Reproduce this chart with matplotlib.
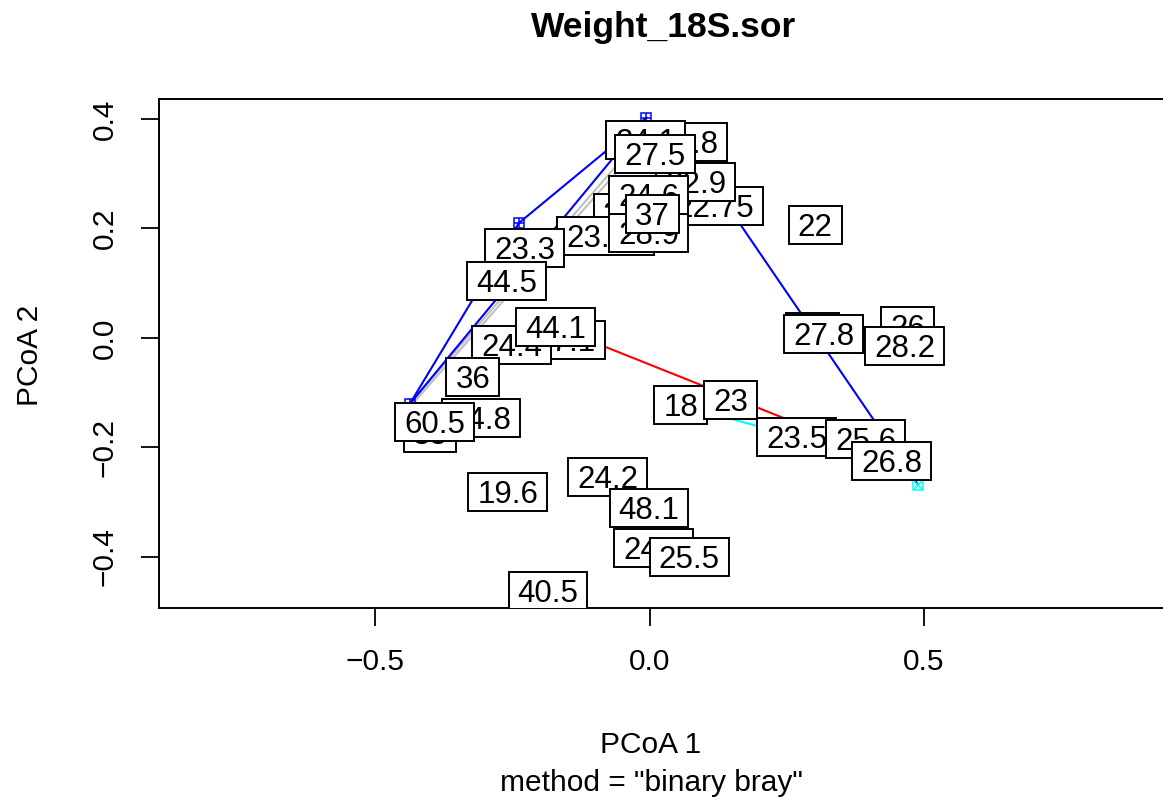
import matplotlib
matplotlib.use('agg')
import matplotlib.pyplot as plt
from matplotlib.patches import Rectangle
from matplotlib.transforms import IdentityTransform

plt.rcParams['font.family'] = ['Liberation Sans', 'DejaVu Sans']

# Sitios: etiqueta y coordenadas PCoA (en orden de dibujo, el último queda encima)
etiquetas = ['21.8', '24.1', '22.75', '22.9', '27.5', '25.4', '23.15', '28.9', '24.6', '37',
             '23.3', '44.5', '27.1', '24.4', '44.1', '36', '38', '34.8', '60.5',
             '22', '26', '28.2', '25', '27.8', '18', '23', '23.5', '25.6', '26.8',
             '19.6', '24.2', '48.1', '24.9', '25.5', '40.5']
pcoa1 = [0.070, -0.007, 0.119, 0.084, 0.010, -0.030, -0.080, -0.001, -0.001, 0.005,
         -0.227, -0.260, -0.154, -0.251, -0.171, -0.322, -0.400, -0.307, -0.391,
         0.302, 0.470, 0.465, 0.297, 0.317, 0.057, 0.148, 0.268, 0.394, 0.441,
         -0.258, -0.076, -0.001, 0.008, 0.072, -0.185]
pcoa2 = [0.358, 0.362, 0.241, 0.285, 0.336, 0.228, 0.186, 0.192, 0.261, 0.226,
         0.164, 0.104, -0.004, -0.013, 0.020, -0.071, -0.174, -0.146, -0.153,
         0.206, 0.022, -0.015, 0.011, 0.007, -0.122, -0.113, -0.181, -0.184, -0.225,
         -0.281, -0.254, -0.311, -0.384, -0.400, -0.462]

# Puntos visibles por grupo
puntos_azul_x = [-0.006, -0.238, -0.437]
puntos_azul_y = [0.402, 0.210, -0.121]
puntos_cian_x = [0.489]
puntos_cian_y = [-0.268]

# Segmentos entre sitios: (x0, y0, x1, y1, color)
segmentos = [
    (-0.437, -0.121, -0.036, 0.343, 'silver'),
    (-0.432, -0.121, -0.017, 0.352, 'silver'),
    (-0.437, -0.121, -0.238, 0.210, 'blue'),
    (-0.437, -0.121, -0.006, 0.402, 'blue'),
    (-0.238, 0.210, -0.006, 0.402, 'blue'),
    (0.073, 0.343, 0.489, -0.268, 'blue'),
    (-0.171, 0.020, 0.441, -0.225, 'red'),
    (0.057, -0.122, 0.268, -0.181, 'cyan'),
]

W, H = 1163, 805
fig = plt.figure(figsize=(W / 100, H / 100), dpi=100)
xmin, xmax = -0.8935, 0.97
ymin, ymax = -0.4932, 0.4365
escala_x = 549.0
ax = fig.add_axes([159 / W, (H - 608) / H, (xmax - xmin) * escala_x / W, 509 / H])
ax.set_xlim(xmin, xmax)
ax.set_ylim(ymin, ymax)

for x0, y0, x1, y1, c in segmentos:
    ax.plot([x0, x1], [y0, y1], color=c, lw=1.5, zorder=1)

ax.plot(puntos_azul_x, puntos_azul_y, 's', mfc='none', mec='blue', ms=7, mew=1.1, zorder=2)
ax.plot(puntos_azul_x, puntos_azul_y, '+', color='blue', ms=7, mew=1.1, zorder=2)
ax.plot(puntos_cian_x, puntos_cian_y, 's', mfc='none', mec='cyan', ms=7, mew=1.1, zorder=2)
ax.plot(puntos_cian_x, puntos_cian_y, 'x', color='cyan', ms=6, mew=1.1, zorder=2)

# Etiquetas con caja blanca
fs = 22.5
renderer = fig.canvas.get_renderer()
alto_caja = 38
for i, (lab, x, y) in enumerate(zip(etiquetas, pcoa1, pcoa2)):
    cx, cy = ax.transData.transform((x, y))
    t = ax.annotate(lab, xy=(x, y), xytext=(0, -0.36 * fs), textcoords='offset points',
                    ha='center', va='baseline', fontsize=fs, zorder=4 + 2 * i)
    ancho = t.get_window_extent(renderer).width + 18
    rect = Rectangle((cx - ancho / 2, cy - alto_caja / 2), ancho, alto_caja,
                     transform=IdentityTransform(), fc='white', ec='black', lw=1.4,
                     zorder=3 + 2 * i)
    ax.add_artist(rect)
    rect.set_clip_path(ax.patch)

ax.set_xticks([-0.5, 0.0, 0.5])
ax.set_xticklabels(['\u22120.5', '0.0', '0.5'])
ax.set_yticks([-0.4, -0.2, 0.0, 0.2, 0.4])
ax.set_yticklabels(['\u22120.4', '\u22120.2', '0.0', '0.2', '0.4'], rotation=90, va='center')
ax.tick_params(direction='out', length=13, width=1.3, labelsize=21.5, pad=16)
for s in ax.spines.values():
    s.set_linewidth(1.4)

fig.text(664 / W, 1 - 27 / H, 'Weight_18S.sor', ha='center', va='center',
         fontsize=25.5, fontweight='bold')
fig.text(651 / W, 1 - 745 / H, 'PCoA 1', ha='center', va='center', fontsize=21.5)
fig.text(651 / W, 1 - 783 / H, 'method = "binary bray"', ha='center', va='center', fontsize=21.5)
fig.text(30 / W, 1 - 355 / H, 'PCoA 2', ha='center', va='center', fontsize=21.5, rotation=90)

fig.savefig('out.png', dpi=100)
